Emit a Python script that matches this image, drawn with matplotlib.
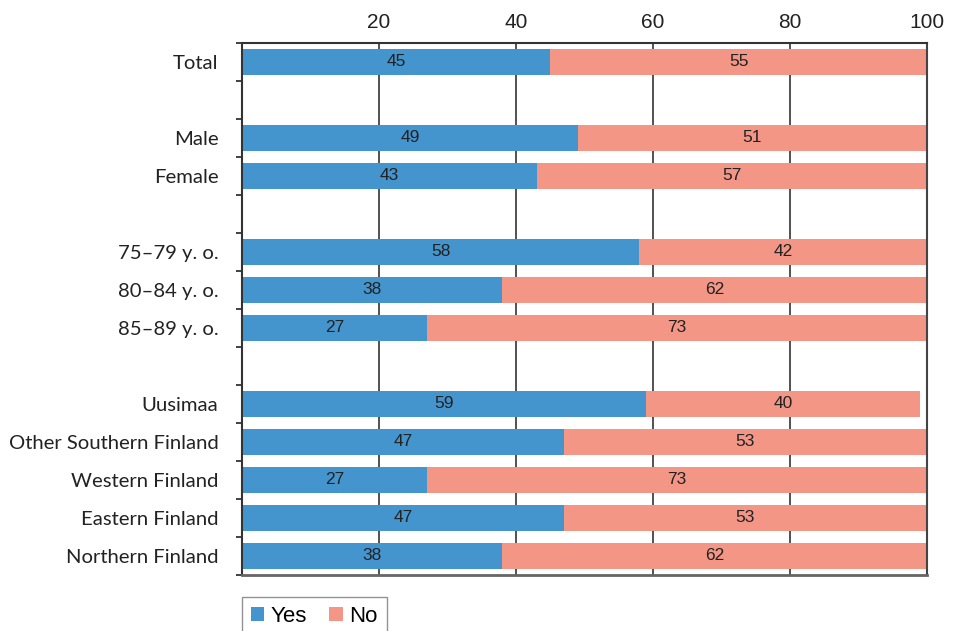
import matplotlib
matplotlib.use("Agg")
import matplotlib.pyplot as plt
from matplotlib.patches import Patch
import numpy as np

# Share answering "Yes" / "No" (%), blank rows separate the groups
categories = ["Total", "", "Male", "Female", "",
              "75–79 y. o.", "80–84 y. o.", "85–89 y. o.", "",
              "Uusimaa", "Other Southern Finland", "Western Finland",
              "Eastern Finland", "Northern Finland"]
yes_values = [45, None, 49, 43, None, 58, 38, 27, None, 59, 47, 27, 47, 38]
no_values = [55, None, 51, 57, None, 42, 62, 73, None, 40, 53, 73, 53, 62]
x_ticks = [20, 40, 60, 80, 100]

YES_COLOR = "#4494CE"
NO_COLOR = "#F39686"
TEXT_COLOR = "#222222"

fig = plt.figure(figsize=(9.55, 6.31), dpi=100)
ax = fig.add_axes([242 / 955, 1 - 575 / 631, 685 / 955, 532 / 631])

bar_h = 0.66
for i, (y, n) in enumerate(zip(yes_values, no_values)):
    if y is None:
        continue
    ax.barh(i, y, height=bar_h, color=YES_COLOR, zorder=2)
    ax.barh(i, n, left=y, height=bar_h, color=NO_COLOR, zorder=2)
    ax.text(y / 2, i, f"{y}", ha="center", va="center", fontsize=12.5,
            color=TEXT_COLOR, family="Liberation Sans", zorder=3)
    ax.text(y + n / 2, i, f"{n}", ha="center", va="center", fontsize=12.5,
            color=TEXT_COLOR, family="Liberation Sans", zorder=3)

ax.set_xlim(0, 100)
ax.set_ylim(len(categories) - 0.5, -0.5)

# x axis on top, grid lines behind the bars
ax.xaxis.tick_top()
ax.set_xticks(x_ticks)
ax.set_xticklabels([str(t) for t in x_ticks], fontsize=15,
                   family="Liberation Sans", color=TEXT_COLOR)
ax.tick_params(axis="x", length=0, pad=8)
ax.set_axisbelow(True)
ax.grid(axis="x", color="#333333", linewidth=1.2, zorder=0)

# category labels, with small ticks on the row boundaries
labelled = [i for i, c in enumerate(categories) if c]
ax.set_yticks(labelled)
ax.set_yticklabels([categories[i] for i in labelled], fontsize=14.6,
                   family="Lato", color=TEXT_COLOR)
ax.set_yticks(np.arange(-0.5, len(categories), 1.0), minor=True)
ax.tick_params(axis="y", which="major", length=0, pad=17)
ax.tick_params(axis="y", which="minor", length=4.5, width=1.3,
               color="#333333", direction="out")

for side, col, lw in [("top", "#333333", 1.5), ("left", "#333333", 1.5),
                      ("bottom", "#666666", 2.0), ("right", "#444444", 1.5)]:
    ax.spines[side].set_color(col)
    ax.spines[side].set_linewidth(lw)

handles = [Patch(facecolor=YES_COLOR, edgecolor="none", label="Yes"),
           Patch(facecolor=NO_COLOR, edgecolor="none", label="No")]
fig.legend(handles=handles, loc="upper left",
           bbox_to_anchor=(242 / 955, 1 - 597 / 631), ncol=2,
           frameon=True, fancybox=False, edgecolor="#777777",
           prop={"family": "Liberation Sans", "size": 16},
           handlelength=0.6, handleheight=0.6, handletextpad=0.3,
           columnspacing=1.0, borderpad=0.4, borderaxespad=0)

fig.savefig("out.png", dpi=100)
